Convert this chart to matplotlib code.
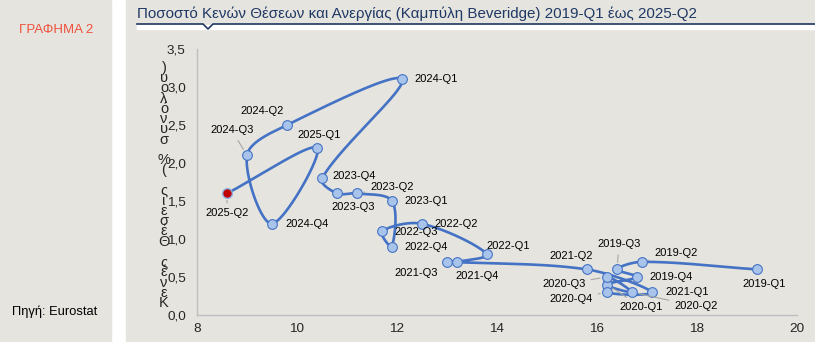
import numpy as np
import matplotlib
matplotlib.use('Agg')
import matplotlib.pyplot as plt
from matplotlib.patches import Rectangle
from matplotlib.lines import Line2D

plt.rcParams['font.family'] = ['Liberation Sans', 'DejaVu Sans']

# Δεδομένα: ανεργία (%) και ποσοστό κενών θέσεων (%)
quarters = ['2019-Q1', '2019-Q2', '2019-Q3', '2019-Q4',
            '2020-Q1', '2020-Q2', '2020-Q3', '2020-Q4',
            '2021-Q1', '2021-Q2', '2021-Q3', '2021-Q4',
            '2022-Q1', '2022-Q2', '2022-Q3', '2022-Q4',
            '2023-Q1', '2023-Q2', '2023-Q3', '2023-Q4',
            '2024-Q1', '2024-Q2', '2024-Q3', '2024-Q4',
            '2025-Q1', '2025-Q2']
unemployment = [19.2, 16.9, 16.4, 16.8,
                16.2, 16.7, 16.2, 16.2,
                17.1, 15.8, 13.0, 13.2,
                13.8, 12.5, 11.7, 11.9,
                11.9, 11.2, 10.8, 10.5,
                12.1, 9.8, 9.0, 9.5,
                10.4, 8.6]
vacancies = [0.6, 0.7, 0.6, 0.5,
             0.4, 0.3, 0.5, 0.3,
             0.3, 0.6, 0.7, 0.7,
             0.8, 1.2, 1.1, 0.9,
             1.5, 1.6, 1.6, 1.8,
             3.1, 2.5, 2.1, 1.2,
             2.2, 1.6]

# θέση ετικετών (pixels) και ποιες έχουν γραμμή οδηγό
label_offsets = {
    '2019-Q1': (7, -15), '2019-Q2': (34, 9), '2019-Q3': (2, 25), '2019-Q4': (34, 0),
    '2020-Q1': (34, -22), '2020-Q2': (64, -14), '2020-Q3': (-43, -7), '2020-Q4': (-36, -7),
    '2021-Q1': (35, 0), '2021-Q2': (-16, 13), '2021-Q3': (-31, -11), '2021-Q4': (20, -14),
    '2022-Q1': (21, 8), '2022-Q2': (34, 0), '2022-Q3': (34, -1), '2022-Q4': (34, 0),
    '2023-Q1': (34, 0), '2023-Q2': (35, 6), '2023-Q3': (16, -14), '2023-Q4': (32, 2),
    '2024-Q1': (34, 0), '2024-Q2': (-25, 14), '2024-Q3': (-15, 25), '2024-Q4': (35, 0),
    '2025-Q1': (2, 13), '2025-Q2': (0, -20),
}
leaders = ['2019-Q2', '2019-Q3', '2020-Q1', '2020-Q2', '2020-Q3', '2020-Q4',
           '2023-Q2', '2024-Q3', '2025-Q2']

W, H = 815, 342
bg = '#e5e4df'
blue = '#4472c4'

fig = plt.figure(figsize=(W / 100, H / 100), dpi=100, facecolor='white')

# φόντο
fig.patches.append(Rectangle((0, 0), 111 / W, 1, transform=fig.transFigure, color=bg, zorder=-10))
fig.patches.append(Rectangle((126 / W, 0), 1, 1, transform=fig.transFigure, color=bg, zorder=-10))

ax = fig.add_axes([197 / W, (H - 315) / H, 600 / W, 266 / H])
ax.set_facecolor('none')
ax.set_xlim(8, 20)
ax.set_ylim(0, 3.5)
ax.set_xticks([8, 10, 12, 14, 16, 18, 20])
ax.set_yticks(np.arange(0, 3.51, 0.5))
ax.set_yticklabels([f'{t:.1f}'.replace('.', ',') for t in np.arange(0, 3.51, 0.5)])
ax.tick_params(length=0, labelsize=9.7, colors='#262626')
ax.tick_params(axis='y', pad=8)
ax.tick_params(axis='x', pad=6)
for s in ['top', 'right']:
    ax.spines[s].set_visible(False)
for s in ['left', 'bottom']:
    ax.spines[s].set_color('#bfbfbf')
    ax.spines[s].set_linewidth(1)

# εξομαλυσμένη γραμμή σε κλίμακα pixel (Bezier με βάρος μήκους τμημάτων)
px = np.array(unemployment) * 50.0
py = np.array(vacancies) * 76.0
P = np.column_stack([px, py])
P_ext = np.vstack([P[0], P, P[-1]])
t = np.linspace(0, 1, 40)
curve = []
for i in range(len(P) - 1):
    p0, p1, p2, p3 = P_ext[i], P_ext[i + 1], P_ext[i + 2], P_ext[i + 3]
    d01 = np.linalg.norm(p1 - p0)
    d12 = np.linalg.norm(p2 - p1)
    d23 = np.linalg.norm(p3 - p2)
    w1 = d12 / (d01 + d12) if d01 + d12 > 0 else 0.5
    w2 = d12 / (d12 + d23) if d12 + d23 > 0 else 0.5
    c1 = p1 + (p2 - p0) * w1 / 3
    c2 = p2 - (p3 - p1) * w2 / 3
    seg = ((1 - t) ** 3)[:, None] * p1 + (3 * (1 - t) ** 2 * t)[:, None] * c1 \
        + (3 * (1 - t) * t ** 2)[:, None] * c2 + (t ** 3)[:, None] * p2
    curve.append(seg)
curve = np.vstack(curve)
ax.plot(curve[:, 0] / 50.0, curve[:, 1] / 76.0, color=blue, lw=1.9, zorder=2,
        solid_capstyle='round')

ax.plot(unemployment[:-1], vacancies[:-1], 'o', ms=7, mfc='#a9c4eb', mec=blue, mew=0.8, zorder=3)
ax.plot(unemployment[-1:], vacancies[-1:], 'o', ms=7, mfc='#c00000', mec='#8fb0e0', mew=1.0, zorder=3)

for q, x, y in zip(quarters, unemployment, vacancies):
    dx, dy = label_offsets[q]
    arrow = None
    if q in leaders:
        arrow = dict(arrowstyle='-', color='#a6a6a6', lw=0.8, shrinkA=2, shrinkB=5)
    ax.annotate(q, (x, y), xytext=(dx, dy), textcoords='offset pixels',
                ha='center', va='center', fontsize=8, color='black',
                arrowprops=arrow, zorder=4)

# κάθετη ετικέτα άξονα y (στοιβαγμένοι χαρακτήρες)
ylabel = 'Κενές Θέσεις (% συνόλου)'
n = len(ylabel)
for i, ch in enumerate(ylabel):
    ypix = 303 - i * (235 / (n - 1))
    fig.text(164 / W, 1 - ypix / H, ch, ha='center', va='center', fontsize=10.5, color='#262626')

# τίτλος
fig.text(137 / W, 1 - 14 / H, 'Ποσοστό Κενών Θέσεων και Ανεργίας (Καμπύλη Beveridge) 2019-Q1 έως 2025-Q2',
         ha='left', va='center', fontsize=10.9, color='#1f3864')
fig.patches.append(Rectangle((137 / W, 1 - 29 / H), 1, 4 / H, transform=fig.transFigure,
                             color='white', zorder=-5))
fig.lines.append(Line2D([137 / W, 203 / W, 208 / W, 213 / W, 1],
                        [1 - 24 / H, 1 - 24 / H, 1 - 29 / H, 1 - 24 / H, 1 - 24 / H],
                        transform=fig.transFigure, color='#1f3864', lw=1.2))

fig.text(56 / W, 1 - 30 / H, 'ΓΡΑΦΗΜΑ 2', ha='center', va='center', fontsize=9.5, color='#f0503c')
fig.text(12 / W, 1 - 312 / H, 'Πηγή: Eurostat', ha='left', va='center', fontsize=9.3, color='black')

fig.savefig('out.png', dpi=100, facecolor='white')
